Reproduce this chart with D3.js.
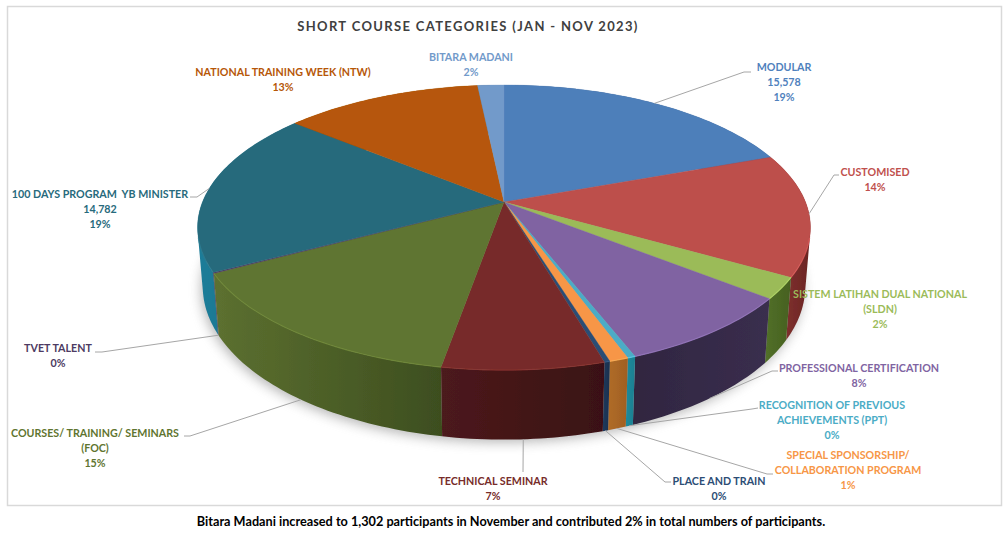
<!DOCTYPE html>
<html><head><meta charset="utf-8">
<script src="https://cdn.jsdelivr.net/npm/d3@7"></script>
<style>html,body{margin:0;background:#fff}svg{display:block}text{font-family:Lato,"Open Sans",sans-serif;font-weight:700}</style>
</head><body><svg id="c" width="1008" height="545"></svg>
<script>
// ---- data ----
const categories = ["MODULAR","CUSTOMISED","SISTEM LATIHAN DUAL NATIONAL (SLDN)","PROFESSIONAL CERTIFICATION","RECOGNITION OF PREVIOUS ACHIEVEMENTS (PPT)","SPECIAL SPONSORSHIP/ COLLABORATION PROGRAM","PLACE AND TRAIN","TECHNICAL SEMINAR","COURSES/ TRAINING/ SEMINARS (FOC)","TVET TALENT","100 DAYS PROGRAM  YB MINISTER","NATIONAL TRAINING WEEK (NTW)","BITARA MADANI"];
const shares = [19.4,13.9,2.4,8.4,0.35,0.85,0.25,7.2,14.4,0.1,18.7,12.4,1.65];
const labelLines = [["MODULAR","15,578","19%"],["CUSTOMISED","14%"],["SISTEM LATIHAN DUAL NATIONAL","(SLDN)","2%"],["PROFESSIONAL CERTIFICATION","8%"],["RECOGNITION OF PREVIOUS","ACHIEVEMENTS (PPT)","0%"],["SPECIAL SPONSORSHIP/","COLLABORATION PROGRAM","1%"],["PLACE AND TRAIN","0%"],["TECHNICAL SEMINAR","7%"],["COURSES/ TRAINING/ SEMINARS","(FOC)","15%"],["TVET TALENT","0%"],["100 DAYS PROGRAM  YB MINISTER","14,782","19%"],["NATIONAL TRAINING WEEK (NTW)","13%"],["BITARA MADANI","2%"]];
const titleText = "SHORT COURSE CATEGORIES (JAN - NOV 2023)";
const noteText = "Bitara Madani increased to 1,302 participants in November and contributed 2% in total numbers of participants.";

// ---- styles ----
const topColors  = ["#4d7fba","#bd4f4c","#9bbb59","#8064a2","#4bacc6","#f79646","#2c4d75","#772c2a","#5f7530","#4d3b62","#276a7c","#b65708","#729aca"];
const wallLeft   = ["#3a5f8c","#8f3a38","#52702a","#302640","#1f8a9c","#b06c28","#1d3a5e","#4c1a1c","#5c7030","#3a2c4c","#1f7d99","#8a4206","#557399"];
const wallRight  = ["#3a5f8c","#6a2422","#46601f","#3a2e4e","#1c7f90","#a05f22","#1a2f4c","#3a1112","#3d4e1f","#3a2c4c","#1a6a82","#8a4206","#557399"];
const textColors = ["#4f81bd","#c0504d","#9bbb59","#8064a2","#4bacc6","#f79646","#2c4d75","#772c2a","#5f7530","#4d3b62","#276a7c","#b65708","#729aca"];
// label layout: centre x, first-line y, leader bend points (null: no leader), rim: 1 = leader starts at lower rim
const labelLayout = [
 {x:784,y:71,lead:[[744,72],[751,72]],rim:0},
 {x:875,y:176,lead:[[834,175],[839,175]],rim:0},
 {x:880,y:298,lead:null,rim:0},
 {x:859,y:372,lead:[[772,371],[778,371]],rim:1},
 {x:832,y:409,lead:[[752,409],[758,408]],rim:1},
 {x:848,y:459,lead:[[767,474],[773,474]],rim:1},
 {x:719,y:485,lead:[[665,482],[671,482]],rim:1},
 {x:493,y:485,lead:[[523,472]],rim:1},
 {x:95,y:437,lead:[[190,436],[184,436]],rim:1},
 {x:58,y:352,lead:[[102,352],[95,352]],rim:1},
 {x:100,y:198,lead:[[197,197],[190,197]],rim:0},
 {x:283,y:76,lead:null,rim:0},
 {x:471,y:61,lead:null,rim:0}
];
const lineGap = 15;

const svg = d3.select("#c");
const defs = svg.append("defs");
defs.append("filter").attr("id","soft").attr("x","-10%").attr("y","-10%").attr("width","120%").attr("height","120%")
  .append("feGaussianBlur").attr("stdDeviation",6);
defs.append("filter").attr("id","soften").append("feGaussianBlur").attr("stdDeviation",0.45);

svg.append("rect").attr("x",7.5).attr("y",6.5).attr("width",994).attr("height",499)
  .attr("fill","#fff").attr("stroke","#d9d9d9").attr("stroke-width",1.5);

// perspective disc
const persp = 0.179;
const pieX = d3.scaleLinear().domain([0,1]).range([504,504+301.5]);
const pieY = d3.scaleLinear().domain([0,1]).range([202,202+138]);
const wallDrop = 57, wallScaleX = 0.983, wallScaleY = 1.0745;
function rim(angle, lower){
  const u=Math.sin(angle), v=-Math.cos(angle), w=1-persp*v;
  const sx=lower?wallScaleX:1, sy=lower?wallScaleY:1;
  return [pieX(0)+(pieX(u/w)-pieX(0))*sx, pieY(0)+(pieY(v/w)-pieY(0))*sy+(lower?wallDrop:0)];
}
const pathOf = d3.line();
const arcs = d3.pie().sort(null).value(d=>d)(shares);
function arcPts(a,b,lower){
  const n=Math.max(2,Math.ceil((b-a)/0.02));
  return d3.range(n+1).map(i=>rim(a+(b-a)*i/n,lower));
}

// shadow
const full = arcPts(0,2*Math.PI,true).map(p=>[p[0]-2,p[1]+3]);
svg.append("path").attr("d",pathOf(full)+"Z").attr("fill","#7f7f7f").attr("opacity",0.55).attr("filter","url(#soft)");

const pie = svg.append("g").attr("filter","url(#soften)");
// outer walls, drawn back to front; each wall is the union of the strips between its upper and lower rim
const order = arcs.map((d,i)=>i).sort((i,j)=>{
  const f=d=>-Math.cos((d.startAngle+d.endAngle)/2);
  return f(arcs[i])-f(arcs[j]);
});
order.forEach(i=>{
  const d=arcs[i];
  const t=arcPts(d.startAngle,d.endAngle,false), b=arcPts(d.startAngle,d.endAngle,true);
  const xs=t.map(p=>p[0]).concat(b.map(p=>p[0]));
  const gid="w"+i;
  const g=defs.append("linearGradient").attr("id",gid).attr("gradientUnits","userSpaceOnUse")
    .attr("x1",d3.min(xs)).attr("x2",d3.max(xs)).attr("y1",0).attr("y2",0);
  g.append("stop").attr("offset",0).attr("stop-color",wallLeft[i]);
  g.append("stop").attr("offset",1).attr("stop-color",wallRight[i]);
  let p="";
  for(let k=0;k<t.length-1;k++){
    const q=[t[k],t[k+1],b[k+1],b[k]];
    // keep every strip in the same winding so overlaps never cancel
    const area=d3.polygonArea(q);
    p+=pathOf(area<0?q.slice().reverse():q)+"Z";
  }
  pie.append("path").attr("d",p).attr("fill",`url(#${gid})`);
});
// top surface
arcs.forEach((d,i)=>{
  const pts=[[pieX(0),pieY(0)]].concat(arcPts(d.startAngle,d.endAngle,false));
  pie.append("path").attr("d",pathOf(pts)+"Z").attr("fill",topColors[i]).attr("stroke",topColors[i]).attr("stroke-width",0.3);
});
// bevel highlight along the front edge
arcs.forEach((d,i)=>{
  const a=Math.max(d.startAngle,Math.PI*0.58), b=Math.min(d.endAngle,Math.PI*1.42);
  if(b<=a) return;
  pie.append("path").attr("d",pathOf(arcPts(a,b,false))).attr("fill","none")
    .attr("stroke",d3.color(topColors[i]).brighter(0.5)).attr("stroke-width",1.2).attr("opacity",0.7);
});

// leaders
arcs.forEach((d,i)=>{
  const L=labelLayout[i];
  if(!L.lead) return;
  const start=rim((d.startAngle+d.endAngle)/2,L.rim===1);
  svg.append("path").attr("d",pathOf([start].concat(L.lead))).attr("fill","none")
    .attr("stroke","#a6a6a6").attr("stroke-width",1);
});
// labels
labelLines.forEach((lines,i)=>{
  const L=labelLayout[i];
  const t=svg.append("text").attr("text-anchor","middle").attr("font-size",10.7).attr("fill",textColors[i]).attr("xml:space","preserve");
  lines.forEach((s,k)=>t.append("tspan").attr("x",L.x).attr("y",L.y+k*lineGap).text(s));
});
svg.append("text").attr("x",468).attr("y",31).attr("text-anchor","middle").attr("font-size",13)
  .attr("letter-spacing",1.35).attr("fill","#404040").text(titleText);
svg.append("text").attr("x",511).attr("y",526).attr("text-anchor","middle").attr("font-size",12.7)
  .attr("fill","#000").text(noteText);
</script></body></html>
